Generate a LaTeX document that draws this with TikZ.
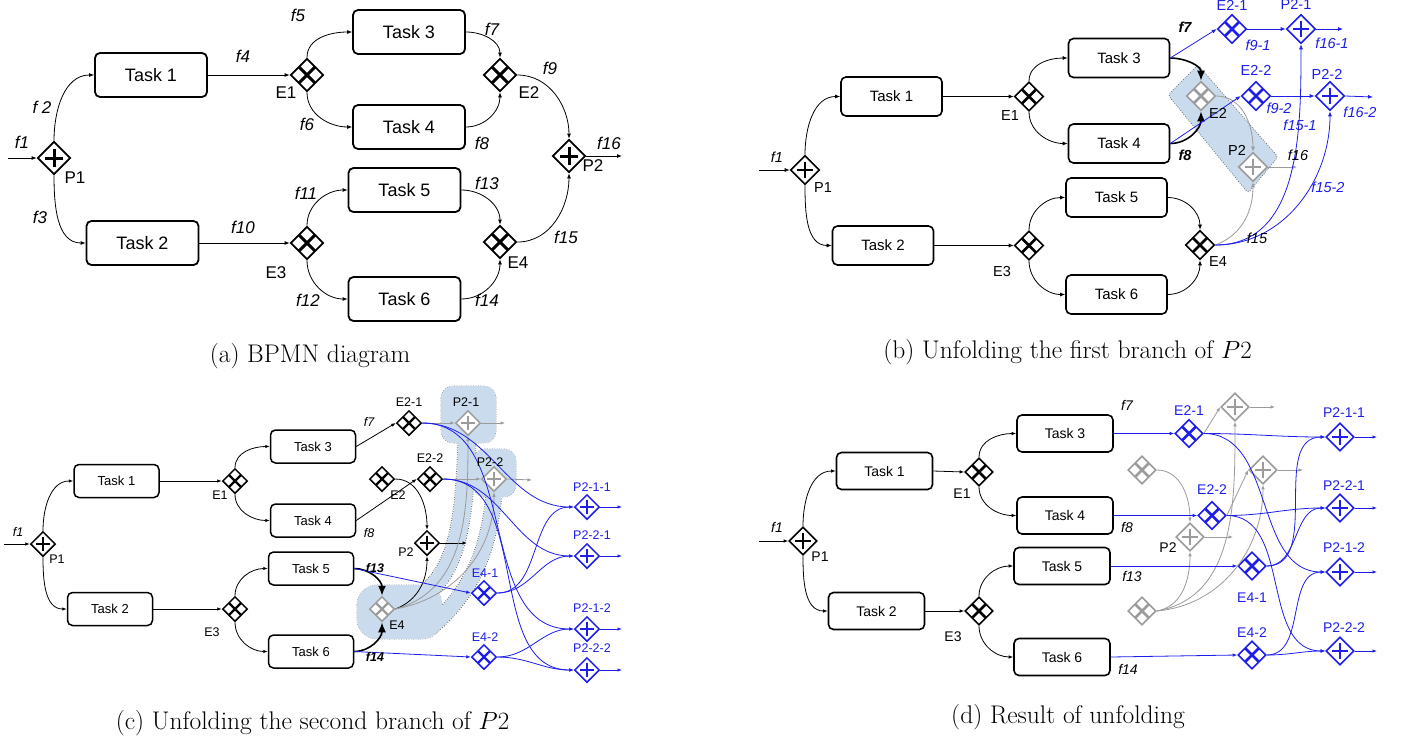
\documentclass[tikz,border=0pt]{standalone}
\usepackage{fontspec}
\newfontfamily\arial{Liberation Sans}
\usetikzlibrary{shapes.geometric,arrows.meta,calc}
\definecolor{bl}{RGB}{30,30,235}
\definecolor{gr}{RGB}{155,155,155}
\definecolor{hl}{RGB}{201,219,236}
\definecolor{hlb}{RGB}{100,100,100}
\def\tw{112pt}\def\th{44pt}\def\tfs{18}\def\lfs{17}\def\gws{33pt}\def\gwb{1.8pt}\def\gwm{3pt}\def\tlw{1.8pt}\def\al{5pt}\def\aw{4pt}
\newcommand\lfont{\arial\fontsize{\lfs}{\lfs}\selectfont}
\newcommand\tfont{\arial\fontsize{\tfs}{\tfs}\selectfont}
\tikzset{
 task/.style={draw, rounded corners=5pt, line width=\tlw, fill=white, inner sep=0pt, minimum width=\tw, minimum height=\th, font=\tfont},
 gw/.style={diamond, aspect=1, inner sep=0pt, minimum size=\gws, line width=\gwb, fill=white, draw=#1},
 gw/.default=black,
 gwx/.style={gw=#1, path picture={\draw[#1, line width=\gwm] ($(path picture bounding box.north east)!0.25!(path picture bounding box.south west)$) -- ($(path picture bounding box.north east)!0.75!(path picture bounding box.south west)$) ($(path picture bounding box.north west)!0.25!(path picture bounding box.south east)$) -- ($(path picture bounding box.north west)!0.75!(path picture bounding box.south east)$);}},
 gwx/.default=black,
 gwp/.style={gw=#1, path picture={\draw[#1, line width=\gwm] ($(path picture bounding box.center)!0.58!(path picture bounding box.north)$) -- ($(path picture bounding box.center)!0.58!(path picture bounding box.south)$) ($(path picture bounding box.center)!0.58!(path picture bounding box.east)$) -- ($(path picture bounding box.center)!0.58!(path picture bounding box.west)$);}},
 gwp/.default=black,
 arr/.style={-{Latex[length=\al,width=\aw]}, line width=0.8pt},
 big/.style={-{Latex[length=10pt,width=8pt]}, line width=1.6pt},
 lab/.style={inner sep=0pt, font=\lfont},
 itl/.style={inner sep=0pt, font=\lfont\itshape},
 bit/.style={inner sep=0pt, font=\lfont\bfseries\itshape},
 captxt/.style={inner sep=0pt, font=\fontsize{25.5}{26}\selectfont},
 hlo/.style={draw=hlb, line width=0.7pt, dash pattern=on 0.8pt off 1.6pt},
}
\begin{document}
\begin{tikzpicture}[x=1pt,y=1pt]
\useasboundingbox (0,0) rectangle (1403,-742);
\fill[white] (0,0) rectangle (1403,-742);

%================ (a) =================
\begin{scope}
\node[task] (a1) at (151,-75) {Task 1};
\node[task] (a2) at (142.5,-243) {Task 2};
\node[task] (a3) at (409,-32) {Task 3};
\node[task] (a4) at (409,-127) {Task 4};
\node[task] (a5) at (404.5,-190) {Task 5};
\node[task] (a6) at (404.5,-299) {Task 6};
\node[gwp] (aP1) at (54,-158) {};
\node[gwx] (aE1) at (307,-75) {};
\node[gwx] (aE2) at (500,-75) {};
\node[gwx] (aE3) at (307,-243) {};
\node[gwx] (aE4) at (500,-242) {};
\node[gwp] (aP2) at (569,-156) {};
\coordinate (aS) at (8,-158);
\coordinate (aT) at (622,-156);
\draw[arr] (aS) -- (aP1.west);
\draw[arr] (aP1.north) to[out=90,in=180] (a1.west);
\draw[arr] (aP1.south) to[out=-90,in=180] (a2.west);
\draw[arr] (a1.east) -- (aE1.west);
\draw[arr] (a2.east) -- (aE3.west);
\draw[arr] (aE1.north) to[out=90,in=180] (a3.west);
\draw[arr] (aE1.south) to[out=-90,in=180] (a4.west);
\draw[arr] (aE3.north) to[out=90,in=180] (a5.west);
\draw[arr] (aE3.south) to[out=-90,in=180] (a6.west);
\draw[arr] (a3.east) to[out=0,in=90] (aE2.north);
\draw[arr] (a4.east) to[out=0,in=-90] (aE2.south);
\draw[arr] (a5.east) to[out=0,in=90] (aE4.north);
\draw[arr] (a6.east) to[out=0,in=-90] (aE4.south);
\draw[arr] (aE2.east) to[out=0,in=90] (aP2.north);
\draw[arr] (aE4.east) to[out=0,in=-90] (aP2.south);
\draw[arr] (aP2.east) -- (aT);
\node[itl] (la1) at (22,-142) {f1};
\node[itl] (la2) at (42,-107) {f 2};
\node[itl] (la3) at (40,-217) {f3};
\node[itl] (la4) at (243,-56) {f4};
\node[itl] (la5) at (298,-15) {f5};
\node[itl] (la6) at (307,-124) {f6};
\node[itl] (la7) at (492,-29) {f7};
\node[itl] (la8) at (482,-143) {f8};
\node[itl] (la9) at (550,-68) {f9};
\node[itl] (la10) at (243,-227) {f10};
\node[itl] (la11) at (306,-193) {f11};
\node[itl] (la12) at (308,-300) {f12};
\node[itl] (la13) at (487,-183) {f13};
\node[itl] (la14) at (487,-300) {f14};
\node[itl] (la15) at (566,-237) {f15};
\node[itl] (la16) at (609,-143) {f16};
\node[lab] (laE1) at (286,-93) {E1};
\node[lab] (laE2) at (529,-93) {E2};
\node[lab] (laE3) at (276,-273) {E3};
\node[lab] (laE4) at (518,-263) {E4};
\node[lab] (laP1) at (75,-178) {P1};
\node[lab] (laP2) at (593,-166) {P2};
\node[captxt] (capa) at (310,-356) {(a) BPMN diagram};
\end{scope}

%================ (b) =================
\begin{scope}
\def\tw{101pt}\def\th{39pt}\def\tfs{15}\def\lfs{14.5}\def\gws{29pt}\def\gwb{1.6pt}\def\gwm{2.8pt}\def\tlw{1.6pt}
\filldraw[hlo, fill=hl, rounded corners=3pt] (1198,-65) -- (1278,-157) -- (1248,-193) -- (1168,-95) -- cycle;
\node[task] (b1) at (891.5,-96.5) {Task 1};
\node[task] (b2) at (883,-245.5) {Task 2};
\node[task] (b3) at (1119,-58) {Task 3};
\node[task] (b4) at (1119,-143.5) {Task 4};
\node[task] (b5) at (1116.5,-197.5) {Task 5};
\node[task] (b6) at (1116.5,-294.5) {Task 6};
\node[gwp] (bP1) at (805,-170) {};
\node[gwx] (bE1) at (1029,-96.5) {};
\node[gwx] (bE3) at (1029,-245.5) {};
\node[gwx] (bE4) at (1200,-245) {};
\node[gwx=gr] (bE2) at (1201,-96) {};
\node[gwp=gr] (bP2) at (1253,-167) {};
\node[gwx=bl] (bE21) at (1232,-29) {};
\node[gwp=bl] (bP21) at (1301,-29) {};
\node[gwx=bl] (bE22) at (1256,-96) {};
\node[gwp=bl] (bP22) at (1330,-96) {};
\coordinate (bS) at (759,-170);
\coordinate (bG) at (1297,-167);
\coordinate (bB1) at (1343,-29);
\coordinate (bB2) at (1373,-97);
\draw[arr] (bS) -- (bP1.west);
\draw[arr] (bP1.north) to[out=90,in=180] (b1.west);
\draw[arr] (bP1.south) to[out=-90,in=180] (b2.west);
\draw[arr] (b1.east) -- (bE1.west);
\draw[arr] (b2.east) -- (bE3.west);
\draw[arr] (bE1.north) to[out=90,in=180] (b3.west);
\draw[arr] (bE1.south) to[out=-90,in=180] (b4.west);
\draw[arr] (bE3.north) to[out=90,in=180] (b5.west);
\draw[arr] (bE3.south) to[out=-90,in=180] (b6.west);
\draw[arr] (b5.east) to[out=0,in=90] (bE4.north);
\draw[arr] (b6.east) to[out=0,in=-90] (bE4.south);
\draw[arr, gr] (bE2.east) to[out=0,in=90] (bP2.north);
\draw[arr, gr] (bE4.east) to[out=20,in=-90] (bP2.south);
\draw[arr, gr] (bP2.east) -- (bG);
\draw[big] (b3.east) to[out=0,in=90] (bE2.north);
\draw[big] (b4.east) to[out=0,in=-90] (bE2.south);
\draw[arr, bl] (b3.east) -- (bE21.west);
\draw[arr, bl] (b4.east) -- (bE22.west);
\draw[arr, bl] (bE21.east) -- (bP21.west);
\draw[arr, bl] (bE22.east) -- (bP22.west);
\draw[arr, bl] (bP21.east) -- (bB1);
\draw[arr, bl] (bP22.east) -- (bB2);
\draw[arr, bl] (bE4.east) to[out=0,in=-90] (bP21.south);
\draw[arr, bl] (bE4.east) to[out=0,in=-90] (bP22.south);
\node[itl] (lb1) at (777,-157) {f1};
\node[lab] (lbP1) at (823,-188) {P1};
\node[lab] (lbE1) at (1010,-116) {E1};
\node[lab] (lbE3) at (1002,-272) {E3};
\node[lab] (lbE4) at (1218,-262) {E4};
\node[lab] (lbE2) at (1218,-113) {E2};
\node[lab] (lbP2) at (1237,-150) {P2};
\node[itl] (lb16) at (1298,-155) {f16};
\node[itl] (lb15) at (1257,-238) {f15};
\node[bit] (lb7) at (1185,-27) {f7};
\node[bit] (lb8) at (1185,-155) {f8};
\node[lab, text=bl] (lbE21) at (1232,-5) {E2-1};
\node[lab, text=bl] (lbP21) at (1296,-4) {P2-1};
\node[itl, text=bl] (lb91) at (1258,-45) {f9-1};
\node[itl, text=bl] (lb161) at (1332,-43) {f16-1};
\node[lab, text=bl] (lbE22) at (1256,-70) {E2-2};
\node[lab, text=bl] (lbP22) at (1327,-74) {P2-2};
\node[itl, text=bl] (lb92) at (1279,-108) {f9-2};
\node[itl, text=bl] (lb162) at (1360,-112) {f16-2};
\node[itl, text=bl] (lb151) at (1300,-125) {f15-1};
\node[itl, text=bl] (lb152) at (1328,-187) {f15-2};
\node[captxt] (capb) at (1067.5,-352) {(b) Unfolding the first branch of $P2$};
\end{scope}

%================ (c) =================
\begin{scope}
\def\tw{85pt}\def\th{33pt}\def\tfs{13}\def\lfs{12.5}\def\gws{25pt}\def\gwb{1.5pt}\def\gwm{2.4pt}\def\tlw{1.5pt}\def\al{4.5pt}\def\aw{3.5pt}
% highlight
\draw[hlo, rounded corners=12pt] (441,-386) rectangle (496,-443);
\draw[hlo, rounded corners=12pt] (473,-449) rectangle (516,-497);
\draw[hlo, rounded corners=20pt] (357,-585) rectangle (442,-639);
\draw[hlb, line width=19pt, dash pattern=on 0.8pt off 1.6pt] (467,-438) .. controls (464,-545) and (452,-578) .. (410,-605);
\draw[hlb, line width=17pt, dash pattern=on 0.8pt off 1.6pt] (494,-493) .. controls (488,-565) and (462,-600) .. (430,-628);
\fill[hl, rounded corners=12pt] (441,-386) rectangle (496,-443);
\fill[hl, rounded corners=12pt] (473,-449) rectangle (516,-497);
\fill[hl, rounded corners=20pt] (357,-585) rectangle (442,-639);
\draw[hl, line width=17pt] (467,-438) .. controls (464,-545) and (452,-578) .. (410,-605);
\draw[hl, line width=15pt] (494,-493) .. controls (488,-565) and (462,-600) .. (430,-628);
\node[task] (c1) at (116.5,-481) {Task 1};
\node[task] (c2) at (110,-609) {Task 2};
\node[task] (c3) at (313,-446.5) {Task 3};
\node[task] (c4) at (313,-520.5) {Task 4};
\node[task] (c5) at (311,-568.5) {Task 5};
\node[task] (c6) at (311,-651.5) {Task 6};
\node[gwp] (cP1) at (43,-544) {};
\node[gwx] (cE1) at (235,-481) {};
\node[gwx] (cE3) at (235,-609) {};
\node[gwx] (cE2) at (382,-479) {};
\node[gwx] (cE21) at (409,-423) {};
\node[gwx] (cE22) at (430,-479) {};
\node[gwp] (cP2) at (427,-543) {};
\node[gwx=gr] (cE4) at (382,-609) {};
\node[gwp=gr] (cP21) at (468,-423) {};
\node[gwp=gr] (cP22) at (494,-479) {};
\node[gwx=bl] (cE41) at (484,-593) {};
\node[gwx=bl] (cE42) at (484,-657) {};
\node[gwp=bl] (cP211) at (587,-507) {};
\node[gwp=bl] (cP221) at (587,-556) {};
\node[gwp=bl] (cP212) at (587,-629) {};
\node[gwp=bl] (cP222) at (587,-670) {};
\coordinate (cS) at (4,-544);
\coordinate (cT) at (467,-543);
\coordinate (cG1) at (505,-423);
\coordinate (cG2) at (532,-480);
\coordinate (cB1) at (622,-507);
\coordinate (cB2) at (622,-556);
\coordinate (cB3) at (622,-629);
\coordinate (cB4) at (622,-670);
\draw[arr] (cS) -- (cP1.west);
\draw[arr] (cP1.north) to[out=90,in=180] (c1.west);
\draw[arr] (cP1.south) to[out=-90,in=180] (c2.west);
\draw[arr] (c1.east) -- (cE1.west);
\draw[arr] (c2.east) -- (cE3.west);
\draw[arr] (cE1.north) to[out=90,in=180] (c3.west);
\draw[arr] (cE1.south) to[out=-90,in=180] (c4.west);
\draw[arr] (cE3.north) to[out=90,in=180] (c5.west);
\draw[arr] (cE3.south) to[out=-90,in=180] (c6.west);
\draw[arr] (c3.east) -- (cE21.west);
\draw[arr] (c4.east) -- (cE22.west);
\draw[arr] (cE2.east) to[out=0,in=90] (cP2.north);
\draw[arr] (cE4.east) to[out=20,in=-90] (cP2.south);
\draw[arr] (cP2.east) -- (cT);
\draw[arr, gr] (cE4.east) to[out=15,in=-90] (cP21.south);
\draw[arr, gr] (cE4.east) to[out=10,in=-90] (cP22.south);
\draw[arr, gr] (cE21.east) -- (cP21.west);
\draw[arr, gr] (cE22.east) -- (cP22.west);
\draw[arr, gr] (cP21.east) -- (cG1);
\draw[arr, gr] (cP22.east) -- (cG2);
\draw[big] (c5.east) to[out=0,in=90] (cE4.north);
\draw[big] (c6.east) to[out=0,in=-90] (cE4.south);
\draw[arr, bl] (c5.east) -- (cE41.west);
\draw[arr, bl] (c6.east) -- (cE42.west);
\draw[arr, bl] (cE21.east) to[out=0,in=180] (cP211.west);
\draw[arr, bl] (cE21.east) to[out=0,in=180] (cP212.west);
\draw[arr, bl] (cE22.east) to[out=0,in=180] (cP221.west);
\draw[arr, bl] (cE22.east) to[out=0,in=180] (cP222.west);
\draw[arr, bl] (cE41.east) to[out=0,in=180] (cP211.west);
\draw[arr, bl] (cE41.east) to[out=0,in=180] (cP221.west);
\draw[arr, bl] (cE42.east) to[out=0,in=180] (cP212.west);
\draw[arr, bl] (cE42.east) to[out=0,in=180] (cP222.west);
\draw[arr, bl] (cP211.east) -- (cB1);
\draw[arr, bl] (cP221.east) -- (cB2);
\draw[arr, bl] (cP212.east) -- (cB3);
\draw[arr, bl] (cP222.east) -- (cB4);
\node[itl] (lc1) at (18,-532) {f1};
\node[lab] (lcP1) at (57,-559) {P1};
\node[lab] (lcE1) at (220,-495) {E1};
\node[lab] (lcE3) at (212,-632) {E3};
\node[itl] (lc7) at (369,-422) {f7};
\node[itl] (lc8) at (369,-533) {f8};
\node[lab] (lcE21) at (409,-402) {E2-1};
\node[lab] (lcE22) at (430,-458) {E2-2};
\node[lab] (lcE2) at (398,-495) {E2};
\node[lab] (lcP21) at (466,-402) {P2-1};
\node[lab] (lcP22) at (490,-462) {P2-2};
\node[lab] (lcP2) at (406,-552) {P2};
\node[lab] (lcE4) at (397,-625) {E4};
\node[bit] (lc13) at (375,-568) {f13};
\node[bit] (lc14) at (375,-657) {f14};
\node[lab, text=bl] (lcE41) at (485,-573) {E4-1};
\node[lab, text=bl] (lcE42) at (485,-637) {E4-2};
\node[lab, text=bl] (lcP211) at (592,-487) {P2-1-1};
\node[lab, text=bl] (lcP221) at (592,-535) {P2-2-1};
\node[lab, text=bl] (lcP212) at (592,-608) {P2-1-2};
\node[lab, text=bl] (lcP222) at (592,-648) {P2-2-2};
\node[captxt] (capc) at (312.5,-723) {(c) Unfolding the second branch of $P2$};
\end{scope}

%================ (d) =================
\begin{scope}
\def\tw{96pt}\def\th{37pt}\def\tfs{14}\def\lfs{14}\def\gws{28pt}\def\gwb{1.6pt}\def\gwm{2.7pt}\def\tlw{1.6pt}\def\al{4.5pt}\def\aw{3.5pt}
\node[task] (d1) at (884.5,-471) {Task 1};
\node[task] (d2) at (876.5,-611) {Task 2};
\node[task] (d3) at (1065,-433.5) {Task 3};
\node[task] (d4) at (1065,-515.5) {Task 4};
\node[task] (d5) at (1062,-566) {Task 5};
\node[task] (d6) at (1062,-657) {Task 6};
\node[gwp] (dP1) at (803,-541) {};
\node[gwx] (dE1) at (979,-472) {};
\node[gwx] (dE3) at (979,-611) {};
\node[gwx=gr] (gE2) at (1142,-470) {};
\node[gwx=gr] (gE4) at (1142,-611) {};
\node[gwp=gr] (gP2) at (1190,-537) {};
\node[gwp=gr] (gPa) at (1235,-407) {};
\node[gwp=gr] (gPb) at (1263,-470) {};
\node[gwx=bl] (dE21) at (1189,-433.5) {};
\node[gwx=bl] (dE22) at (1212,-515.5) {};
\node[gwx=bl] (dE41) at (1252,-566) {};
\node[gwx=bl] (dE42) at (1252,-655) {};
\node[gwp=bl] (dP211) at (1340,-437) {};
\node[gwp=bl] (dP221) at (1340,-508) {};
\node[gwp=bl] (dP212) at (1340,-572) {};
\node[gwp=bl] (dP222) at (1340,-651) {};
\coordinate (dS) at (759,-541);
\coordinate (dG1) at (1275,-407);
\coordinate (dG2) at (1303,-470);
\coordinate (dG3) at (1233,-537);
\coordinate (dB1) at (1377,-437);
\coordinate (dB2) at (1377,-508);
\coordinate (dB3) at (1377,-572);
\coordinate (dB4) at (1377,-651);
\draw[arr] (dS) -- (dP1.west);
\draw[arr] (dP1.north) to[out=90,in=180] (d1.west);
\draw[arr] (dP1.south) to[out=-90,in=180] (d2.west);
\draw[arr] (d1.east) -- (dE1.west);
\draw[arr] (d2.east) -- (dE3.west);
\draw[arr] (dE1.north) to[out=90,in=180] (d3.west);
\draw[arr] (dE1.south) to[out=-90,in=180] (d4.west);
\draw[arr] (dE3.north) to[out=90,in=180] (d5.west);
\draw[arr] (dE3.south) to[out=-90,in=180] (d6.west);
\draw[arr, gr] (gE2.east) to[out=0,in=90] (gP2.north);
\draw[arr, gr] (gE4.east) to[out=10,in=-90] (gP2.south);
\draw[arr, gr] (gE4.east) to[out=10,in=-90] (gPa.south);
\draw[arr, gr] (gE4.east) to[out=5,in=-90] (gPb.south);
\draw[arr, gr] (dE21.east) -- (gPa.west);
\draw[arr, gr] (dE22.east) -- (gPb.west);
\draw[arr, gr] (gPa.east) -- (dG1);
\draw[arr, gr] (gPb.east) -- (dG2);
\draw[arr, gr] (gP2.east) -- (dG3);
\draw[arr, bl] (d3.east) -- (dE21.west);
\draw[arr, bl] (d4.east) -- (dE22.west);
\draw[arr, bl] (d5.east) -- (dE41.west);
\draw[arr, bl] (d6.east) -- (dE42.west);
\draw[arr, bl] (dE21.east) to[out=0,in=180] (dP211.west);
\draw[arr, bl] (dE21.east) to[out=0,in=180] (dP212.west);
\draw[arr, bl] (dE22.east) to[out=0,in=180] (dP221.west);
\draw[arr, bl] (dE22.east) to[out=0,in=180] (dP222.west);
\draw[arr, bl] (dE41.east) to[out=0,in=180] (dP211.west);
\draw[arr, bl] (dE41.east) to[out=0,in=180] (dP221.west);
\draw[arr, bl] (dE42.east) to[out=0,in=180] (dP212.west);
\draw[arr, bl] (dE42.east) to[out=0,in=180] (dP222.west);
\draw[arr, bl] (dP211.east) -- (dB1);
\draw[arr, bl] (dP221.east) -- (dB2);
\draw[arr, bl] (dP212.east) -- (dB3);
\draw[arr, bl] (dP222.east) -- (dB4);
\node[itl] (ld1) at (777,-527) {f1};
\node[lab] (ldP1) at (820,-557) {P1};
\node[lab] (ldE1) at (962,-494) {E1};
\node[lab] (ldE3) at (953,-637) {E3};
\node[itl] (ld7) at (1127,-405) {f7};
\node[itl] (ld8) at (1127,-527) {f8};
\node[itl] (ld13) at (1132,-576) {f13};
\node[itl] (ld14) at (1128,-669) {f14};
\node[lab] (ldP2) at (1168,-548) {P2};
\node[lab, text=bl] (ldE21) at (1189,-411) {E2-1};
\node[lab, text=bl] (ldE22) at (1212,-490) {E2-2};
\node[lab, text=bl] (ldE41) at (1252,-598) {E4-1};
\node[lab, text=bl] (ldE42) at (1252,-633) {E4-2};
\node[lab, text=bl] (ldP211) at (1344,-413) {P2-1-1};
\node[lab, text=bl] (ldP221) at (1344,-486) {P2-2-1};
\node[lab, text=bl] (ldP212) at (1344,-548) {P2-1-2};
\node[lab, text=bl] (ldP222) at (1344,-628) {P2-2-2};
\node[captxt] (capd) at (1068,-717) {(d) Result of unfolding};
\end{scope}
\end{tikzpicture}
\end{document}
